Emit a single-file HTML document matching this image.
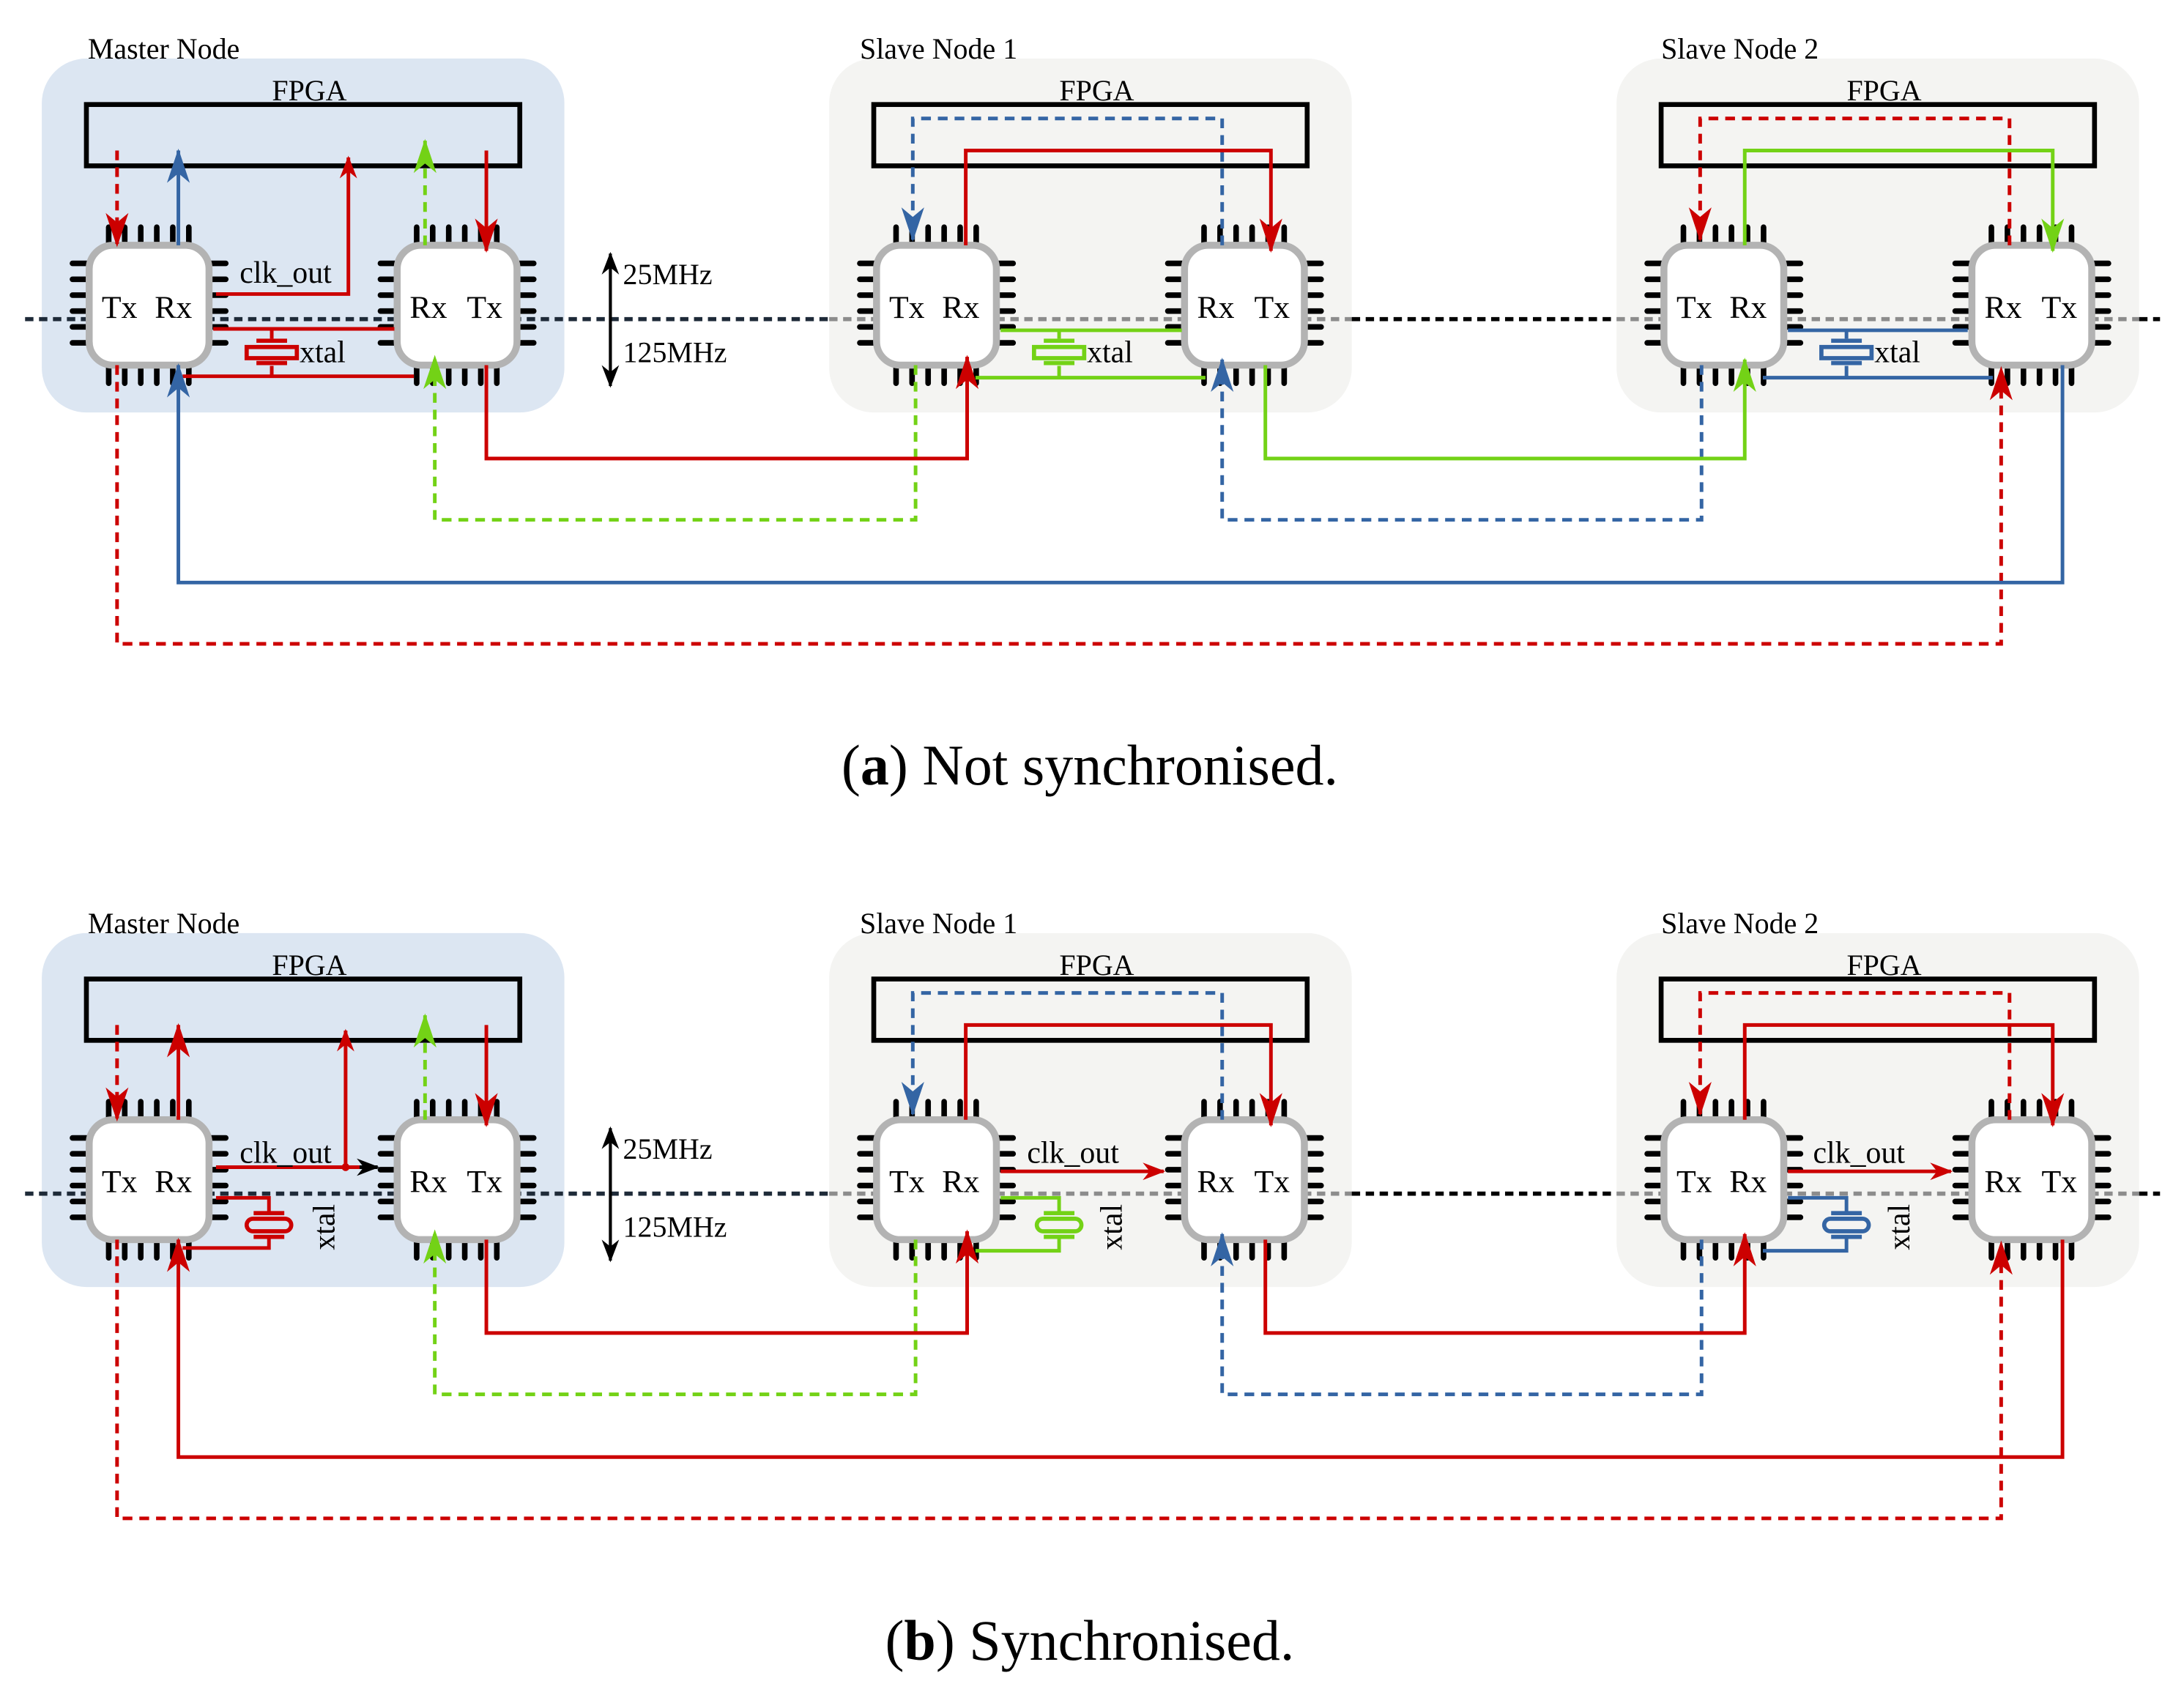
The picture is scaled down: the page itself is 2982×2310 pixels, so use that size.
<!DOCTYPE html>
<html><head><meta charset="utf-8"><style>
html,body{margin:0;padding:0;background:#fff}
svg{display:block}
text{font-family:"Liberation Serif",serif;fill:#000}
</style></head><body>
<svg width="2982" height="2310" viewBox="0 0 1567.2 1214.1" preserveAspectRatio="none" xmlns="http://www.w3.org/2000/svg">
<defs>
<marker id="mr" markerUnits="userSpaceOnUse" markerWidth="30" markerHeight="30" refX="0" refY="0" viewBox="-20 -10 22 20" orient="auto"><path d="M1,0 L-17,-6 L-12,0 L-17,6 Z" fill="#cc0000"/></marker>
<marker id="mb" markerUnits="userSpaceOnUse" markerWidth="30" markerHeight="30" refX="0" refY="0" viewBox="-20 -10 22 20" orient="auto"><path d="M1,0 L-17,-6 L-12,0 L-17,6 Z" fill="#3465a4"/></marker>
<marker id="mg" markerUnits="userSpaceOnUse" markerWidth="30" markerHeight="30" refX="0" refY="0" viewBox="-20 -10 22 20" orient="auto"><path d="M1,0 L-17,-6 L-12,0 L-17,6 Z" fill="#73d216"/></marker>
<marker id="mk" markerUnits="userSpaceOnUse" markerWidth="20" markerHeight="20" refX="0" refY="0" viewBox="-14 -7 16 14" orient="auto-start-reverse"><path d="M1,0 L-12,-5 L-8,0 L-12,5 Z" fill="#000"/></marker>
<marker id="mrs" markerUnits="userSpaceOnUse" markerWidth="20" markerHeight="20" refX="0" refY="0" viewBox="-14 -7 16 14" orient="auto"><path d="M1,0 L-12,-5 L-8,0 L-12,5 Z" fill="#cc0000"/></marker>
<g id="chip">
  <g stroke="#000" stroke-width="4" stroke-linecap="round">
    <path d="M14,-13V0M25.5,-13V0M37,-13V0M48.5,-13V0M60,-13V0M71.5,-13V0"/>
    <path d="M14,86V99M25.5,86V99M37,86V99M48.5,86V99M60,86V99M71.5,86V99"/>
    <path d="M-12,13H0M-12,24.4H0M-12,35.8H0M-12,47.2H0M-12,58.6H0M-12,70H0"/>
    <path d="M86,13H98M86,24.4H98M86,35.8H98M86,47.2H98M86,58.6H98M86,70H98"/>
  </g>
  <rect x="0" y="0" width="86" height="86" rx="17" fill="#fff" stroke="#b3b3b3" stroke-width="5"/>
</g>
<g id="panel">
  <rect x="30" y="42" width="375" height="254" rx="32" fill="#dce6f2"/>
  <rect x="595" y="42" width="375" height="254" rx="32" fill="#f4f4f2"/>
  <rect x="1160" y="42" width="375" height="254" rx="32" fill="#f4f4f2"/>
  <text x="63" y="42" font-size="21">Master Node</text>
  <text x="617" y="42" font-size="21">Slave Node 1</text>
  <text x="1192" y="42" font-size="21">Slave Node 2</text>
  <text x="222" y="72" font-size="21" text-anchor="middle">FPGA</text>
  <text x="787" y="72" font-size="21" text-anchor="middle">FPGA</text>
  <text x="1352" y="72" font-size="21" text-anchor="middle">FPGA</text>
  <g fill="none" stroke="#000" stroke-width="3.5">
    <rect x="62" y="75" width="311" height="44"/>
    <rect x="627" y="75" width="311" height="44"/>
    <rect x="1192" y="75" width="311" height="44"/>
  </g>
  <g stroke-width="3" stroke-dasharray="6,4" fill="none">
    <path d="M18,229H595" stroke="#1e2a38"/>
    <path d="M595,229H970" stroke="#8c8c8c"/>
    <path d="M970,229H1160" stroke="#000"/>
    <path d="M1160,229H1535" stroke="#8c8c8c"/>
    <path d="M1535,229H1550" stroke="#000"/>
  </g>
  <use href="#chip" x="64" y="176"/>
  <use href="#chip" x="285" y="176"/>
  <use href="#chip" x="629" y="176"/>
  <use href="#chip" x="850" y="176"/>
  <use href="#chip" x="1194" y="176"/>
  <use href="#chip" x="1415" y="176"/>
  <path d="M438,182V277" stroke="#000" stroke-width="2.2" marker-start="url(#mk)" marker-end="url(#mk)" fill="none"/>
  <text x="447" y="204" font-size="21">25MHz</text>
  <text x="447" y="260" font-size="21">125MHz</text>
</g>
</defs>

<use href="#panel"/>
<g fill="none" stroke-width="2.6">
  <path d="M84,108V176" stroke="#cc0000" stroke-dasharray="7,5" marker-end="url(#mr)"/>
  <path d="M128,176V108" stroke="#3465a4" marker-end="url(#mb)"/>
  <path d="M155,211H250V113" stroke="#cc0000" marker-end="url(#mrs)"/>
  <path d="M305,176V101" stroke="#73d216" stroke-dasharray="7,5" marker-end="url(#mg)"/>
  <path d="M349,108V180" stroke="#cc0000" marker-end="url(#mr)"/>
  <path d="M153,236H283M195,236V243M195,262.5V270M131,270H297" stroke="#cc0000"/>
  <path d="M84,262V462H1436V264" stroke="#cc0000" stroke-dasharray="7,5" marker-end="url(#mr)"/>
  <path d="M1480,262V418H128V262" stroke="#3465a4" marker-end="url(#mb)"/>
  <path d="M657,262V373H312V256" stroke="#73d216" stroke-dasharray="7,5" marker-end="url(#mg)"/>
  <path d="M349,262V329H694V256" stroke="#cc0000" marker-end="url(#mr)"/>
  <path d="M877,176V85H655V172" stroke="#3465a4" stroke-dasharray="7,5" marker-end="url(#mb)"/>
  <path d="M693,176V108H912V180" stroke="#cc0000" marker-end="url(#mr)"/>
  <path d="M718,237H848M760,237V243M760,262.5V271M700,271H865" stroke="#73d216"/>
  <path d="M1221,262V373H877V258" stroke="#3465a4" stroke-dasharray="7,5" marker-end="url(#mb)"/>
  <path d="M908,262V329H1252V258" stroke="#73d216" marker-end="url(#mg)"/>
  <path d="M1442,176V85H1220V172" stroke="#cc0000" stroke-dasharray="7,5" marker-end="url(#mr)"/>
  <path d="M1252,176V108H1473V180" stroke="#73d216" marker-end="url(#mg)"/>
  <path d="M1283,237H1412M1325,237V243M1325,262.5V271M1265,271H1430" stroke="#3465a4"/>
</g>
<g fill="none" stroke-width="3">
  <g stroke="#cc0000"><path d="M184,244.5H206M184,260.5H206"/><rect x="177" y="249" width="36" height="8"/></g>
  <g stroke="#73d216"><path d="M749,244.5H771M749,260.5H771"/><rect x="742" y="249" width="36" height="8"/></g>
  <g stroke="#3465a4"><path d="M1314,244.5H1336M1314,260.5H1336"/><rect x="1307" y="249" width="36" height="8"/></g>
</g>
<g font-size="22">
  <text x="172" y="203">clk_out</text>
  <text x="215" y="260">xtal</text>
  <text x="780" y="260">xtal</text>
  <text x="1345" y="260">xtal</text>
</g>
<g font-size="23">
  <text x="73" y="228">Tx</text><text x="111" y="228">Rx</text>
  <text x="294" y="228">Rx</text><text x="335" y="228">Tx</text>
  <text x="638" y="228">Tx</text><text x="676" y="228">Rx</text>
  <text x="859" y="228">Rx</text><text x="900" y="228">Tx</text>
  <text x="1203" y="228">Tx</text><text x="1241" y="228">Rx</text>
  <text x="1424" y="228">Rx</text><text x="1465" y="228">Tx</text>
</g>
<text x="782" y="563" font-size="41" text-anchor="middle">(<tspan font-weight="bold">a</tspan>) Not synchronised.</text>

<g transform="translate(0,627.5)">
<use href="#panel"/>
<g fill="none" stroke-width="2.6">
  <path d="M84,108V176" stroke="#cc0000" stroke-dasharray="7,5" marker-end="url(#mr)"/>
  <path d="M128,176V108" stroke="#cc0000" marker-end="url(#mr)"/>
  <path d="M155,210H262" stroke="#cc0000"/>
  <path d="M258,210H271" stroke="#000" marker-end="url(#mk)"/>
  <path d="M248,210V112" stroke="#cc0000" marker-end="url(#mrs)"/>
  <path d="M305,176V101" stroke="#73d216" stroke-dasharray="7,5" marker-end="url(#mg)"/>
  <path d="M349,108V180" stroke="#cc0000" marker-end="url(#mr)"/>
  <path d="M155,232H193V242M193,261V268H131" stroke="#cc0000"/>
  <path d="M84,262V462H1436V264" stroke="#cc0000" stroke-dasharray="7,5" marker-end="url(#mr)"/>
  <path d="M1480,262V418H128V262" stroke="#cc0000" marker-end="url(#mr)"/>
  <path d="M657,262V373H312V256" stroke="#73d216" stroke-dasharray="7,5" marker-end="url(#mg)"/>
  <path d="M349,262V329H694V256" stroke="#cc0000" marker-end="url(#mr)"/>
  <path d="M877,176V85H655V172" stroke="#3465a4" stroke-dasharray="7,5" marker-end="url(#mb)"/>
  <path d="M693,176V108H912V180" stroke="#cc0000" marker-end="url(#mr)"/>
  <path d="M718,213H835" stroke="#cc0000" marker-end="url(#mrs)"/>
  <path d="M718,232H760V242M760,261V270H700" stroke="#73d216"/>
  <path d="M1221,262V373H877V258" stroke="#3465a4" stroke-dasharray="7,5" marker-end="url(#mb)"/>
  <path d="M908,262V329H1252V258" stroke="#cc0000" marker-end="url(#mr)"/>
  <path d="M1442,176V85H1220V172" stroke="#cc0000" stroke-dasharray="7,5" marker-end="url(#mr)"/>
  <path d="M1252,176V108H1473V180" stroke="#cc0000" marker-end="url(#mr)"/>
  <path d="M1283,213H1400" stroke="#cc0000" marker-end="url(#mrs)"/>
  <path d="M1283,232H1325V242M1325,261V270H1265" stroke="#3465a4"/>
</g>
<circle cx="248" cy="210" r="2.8" fill="#cc0000"/>
<g fill="none" stroke-width="3">
  <g stroke="#cc0000"><path d="M182,243H204M182,260H204"/><rect x="177" y="247" width="32" height="9" rx="4.5"/></g>
  <g stroke="#73d216"><path d="M749,243H771M749,260H771"/><rect x="744" y="247" width="32" height="9" rx="4.5"/></g>
  <g stroke="#3465a4"><path d="M1314,243H1336M1314,260H1336"/><rect x="1309" y="247" width="32" height="9" rx="4.5"/></g>
</g>
<g font-size="22">
  <text x="172" y="207">clk_out</text>
  <text x="737" y="207">clk_out</text>
  <text x="1301" y="207">clk_out</text>
  <text transform="translate(240,253) rotate(-90)" text-anchor="middle">xtal</text>
  <text transform="translate(805,253) rotate(-90)" text-anchor="middle">xtal</text>
  <text transform="translate(1370,253) rotate(-90)" text-anchor="middle">xtal</text>
</g>
<g font-size="23">
  <text x="73" y="228">Tx</text><text x="111" y="228">Rx</text>
  <text x="294" y="228">Rx</text><text x="335" y="228">Tx</text>
  <text x="638" y="228">Tx</text><text x="676" y="228">Rx</text>
  <text x="859" y="228">Rx</text><text x="900" y="228">Tx</text>
  <text x="1203" y="228">Tx</text><text x="1241" y="228">Rx</text>
  <text x="1424" y="228">Rx</text><text x="1465" y="228">Tx</text>
</g>
</g>
<text x="782" y="1191" font-size="41" text-anchor="middle">(<tspan font-weight="bold">b</tspan>) Synchronised.</text>
</svg>
</body></html>
